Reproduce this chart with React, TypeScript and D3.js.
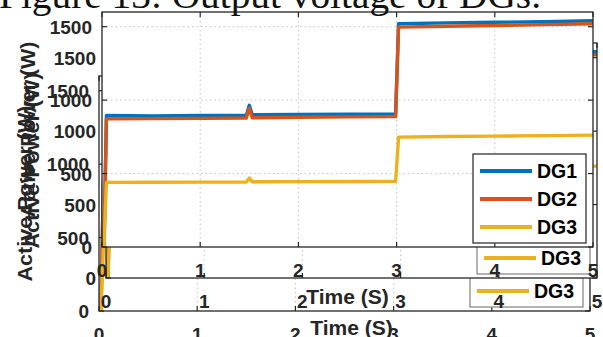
import React from 'react';
import * as d3 from 'd3';

const time = [0, 0.02, 0.045, 0.5, 1.0, 1.47, 1.5, 1.53, 2.0, 2.5, 2.99, 3.02, 3.5, 4.0, 4.5, 5.0];
const dg1 = [0, 0, 895, 893, 895, 896, 965, 900, 902, 904, 906, 1520, 1526, 1530, 1534, 1540];
const dg2 = [0, 0, 872, 874, 876, 878, 945, 880, 883, 886, 888, 1497, 1503, 1508, 1514, 1520];
const dg3 = [0, 0, 440, 441, 442, 443, 470, 444, 445, 446, 447, 748, 752, 755, 758, 762];

const seriesNames = ['DG1', 'DG2', 'DG3'];
const seriesColors = ['#0072BD', '#D95319', '#EDB120'];
const seriesValues = [dg1, dg2, dg3];

const xTicks = [0, 1, 2, 3, 4, 5];
const yTicks = [0, 500, 1000, 1500];

const titleText = 'Figure 13: Output voltage of DGs.';
const xLabel = 'Time (S)';
const yLabel = 'Active Power (W)';

const W = 603;
const H = 337;
const plotW = 491;
const plotH = 235;

// the same axes pasted three times, slightly shifted (back to front)
const copies = [
    {id: 'c', left: 99, top: 76, legendStroke: '#8a8a8a'},
    {id: 'b', left: 106, top: 43, legendStroke: '#8a8a8a'},
    {id: 'a', left: 102, top: 12, legendStroke: '#333333'},
];

const xScale = d3.scaleLinear().domain([0, 5]).range([0, plotW]);
const yScale = d3.scaleLinear().domain([0, 1600]).range([plotH, 0]);

const line = d3.line<number>()
    .x((d, i) => xScale(time[i]))
    .y((d) => yScale(d));

const axisColor = '#262626';
const font = 'Arial, "Liberation Sans", Helvetica, sans-serif';

function Panel({id, left, top, legendStroke}) {
    const legendX = 371;
    const legendY = 142;
    return (
        <g transform={`translate(${left},${top})`}>
            <rect width={plotW} height={plotH} fill="#fff" />
            <clipPath id={`clip-${id}`}>
                <rect width={plotW} height={plotH} />
            </clipPath>

            {/* grid */}
            {xTicks.slice(1, -1).map((t) => (
                <line key={'gx' + t} x1={xScale(t)} x2={xScale(t)} y1={0} y2={plotH}
                    stroke="#c4c4c4" strokeWidth={1} strokeDasharray="1.5,3" />
            ))}
            {yTicks.slice(1).map((t) => (
                <line key={'gy' + t} x1={0} x2={plotW} y1={yScale(t)} y2={yScale(t)}
                    stroke="#c4c4c4" strokeWidth={1} strokeDasharray="1.5,3" />
            ))}

            {/* traces */}
            <g clipPath={`url(#clip-${id})`}>
                {seriesValues.map((vals, i) => (
                    <path key={seriesNames[i]} d={line(vals) || ''} fill="none"
                        stroke={seriesColors[i]} strokeWidth={3.4} strokeLinejoin="round" />
                ))}
            </g>

            {/* box and ticks */}
            <rect width={plotW} height={plotH} fill="none" stroke={axisColor} strokeWidth={1.3} />
            {xTicks.map((t) => (
                <g key={'tx' + t}>
                    <line x1={xScale(t)} x2={xScale(t)} y1={plotH} y2={plotH - 5} stroke={axisColor} strokeWidth={1.2} />
                    <line x1={xScale(t)} x2={xScale(t)} y1={0} y2={5} stroke={axisColor} strokeWidth={1.2} />
                    <text x={xScale(t)} y={plotH + 30} textAnchor="middle" fontFamily={font}
                        fontWeight="bold" fontSize={19} fill={axisColor}>{t}</text>
                </g>
            ))}
            {yTicks.map((t) => (
                <g key={'ty' + t}>
                    <line x1={0} x2={5} y1={yScale(t)} y2={yScale(t)} stroke={axisColor} strokeWidth={1.2} />
                    <line x1={plotW} x2={plotW - 5} y1={yScale(t)} y2={yScale(t)} stroke={axisColor} strokeWidth={1.2} />
                    <text x={-10} y={yScale(t) + 7} textAnchor="end" fontFamily={font}
                        fontWeight="bold" fontSize={19} fill={axisColor}>{t}</text>
                </g>
            ))}

            {/* axis labels */}
            <text x={plotW / 2} y={plotH + 57} textAnchor="middle" fontFamily={font}
                fontWeight="bold" fontSize={21} fill={axisColor}>{xLabel}</text>
            <text transform={`translate(-67,${plotH / 2}) rotate(-90)`} textAnchor="middle"
                fontFamily={font} fontWeight="bold" fontSize={21} fill={axisColor}
                textLength={176} lengthAdjust="spacingAndGlyphs">{yLabel}</text>

            {/* legend */}
            <g transform={`translate(${legendX},${legendY})`}>
                <rect width={113} height={89} fill="#fff" stroke={legendStroke} strokeWidth={1.3} />
                {seriesNames.map((name, i) => (
                    <g key={name} transform={`translate(0,${17 + i * 28})`}>
                        <line x1={7} x2={59} y1={0} y2={0} stroke={seriesColors[i]} strokeWidth={4} />
                        <text x={64} y={7} fontFamily={font} fontWeight="bold" fontSize={19.5}
                            fill="#000">{name}</text>
                    </g>
                ))}
            </g>
        </g>
    );
}

export default function App() {
    return (
        <svg width={W} height={H} style={{position: 'absolute', left: 0, top: 0, background: '#fff'}}>
            <rect width={W} height={H} fill="#fff" />
            {copies.map((c) => (
                <Panel key={c.id} {...c} />
            ))}
            <text x={-1} y={8} fontFamily='"Liberation Serif", "DejaVu Serif", serif' fontSize={38}
                fill="#111" textLength={542} lengthAdjust="spacingAndGlyphs">{titleText}</text>
        </svg>
    );
}
